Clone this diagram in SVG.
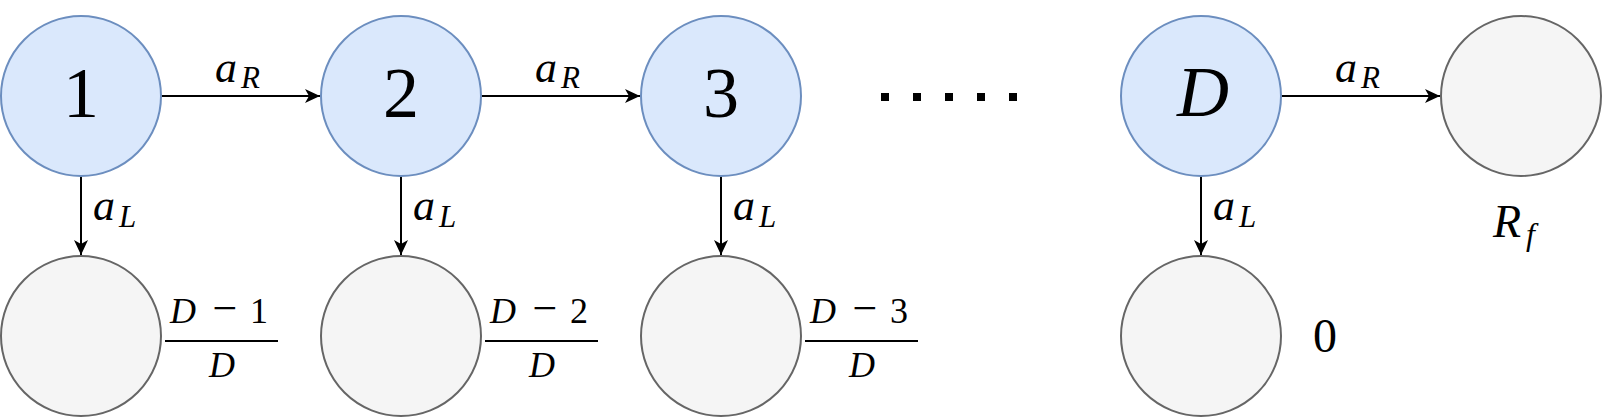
<svg xmlns="http://www.w3.org/2000/svg" width="1602" height="418" viewBox="0 0 1602 418">
<style>
.state{fill:#dae8fc;stroke:#6c8ebf;stroke-width:2}
.term{fill:#f5f5f5;stroke:#666666;stroke-width:2}
.edge{stroke:#000;stroke-width:2;fill:none}
text{font-family:'Liberation Serif','DejaVu Serif',serif;fill:#000}
.mi{font-style:italic}
.big{font-size:72px}
.lab{font-size:44px}
.sub{font-size:31px}
.fr{font-size:36px}
.minus{font-size:44px}
</style>
<defs>
<marker id="arr" markerUnits="userSpaceOnUse" markerWidth="18" markerHeight="16" viewBox="-16 -8 17 16" refX="0" refY="0" orient="auto">
<path d="M0,0 L-15,-7 L-11,0 L-15,7 Z" fill="#000"/>
</marker>
</defs>
<g id="connectors">
<line class="edge" x1="161" y1="96" x2="320" y2="96" marker-end="url(#arr)"/>
<line class="edge" x1="481" y1="96" x2="640" y2="96" marker-end="url(#arr)"/>
<line class="edge" x1="1281" y1="96" x2="1440" y2="96" marker-end="url(#arr)"/>
<line class="edge" x1="81" y1="176" x2="81" y2="255" marker-end="url(#arr)"/>
<line class="edge" x1="401" y1="176" x2="401" y2="255" marker-end="url(#arr)"/>
<line class="edge" x1="721" y1="176" x2="721" y2="255" marker-end="url(#arr)"/>
<line class="edge" x1="1201" y1="176" x2="1201" y2="255" marker-end="url(#arr)"/>
<text class="mi lab" x="215" y="82">a</text><text class="mi sub" x="241" y="88">R</text>
<text class="mi lab" x="535" y="82">a</text><text class="mi sub" x="561" y="88">R</text>
<text class="mi lab" x="1335" y="82">a</text><text class="mi sub" x="1361" y="88">R</text>
<text class="mi lab" x="93" y="220">a</text><text class="mi sub" x="119" y="227">L</text>
<text class="mi lab" x="413" y="220">a</text><text class="mi sub" x="439" y="227">L</text>
<text class="mi lab" x="733" y="220">a</text><text class="mi sub" x="759" y="227">L</text>
<text class="mi lab" x="1213" y="220">a</text><text class="mi sub" x="1239" y="227">L</text>
</g>
<g id="node1"><circle class="state" cx="81" cy="96" r="80"/><text class="big" x="81" y="117" text-anchor="middle">1</text></g>
<g id="node2"><circle class="state" cx="401" cy="96" r="80"/><text class="big" x="401" y="117" text-anchor="middle">2</text></g>
<g id="node3"><circle class="state" cx="721" cy="96" r="80"/><text class="big" x="721" y="117" text-anchor="middle">3</text></g>
<g id="nodeD"><circle class="state" cx="1201" cy="96" r="80"/><text class="mi big" x="1203" y="116" text-anchor="middle">D</text></g>
<g id="nodeRf"><circle class="term" cx="1521" cy="96" r="80"/>
<text class="mi" font-size="46" x="1493" y="237">R</text><text class="mi" font-size="32" x="1526" y="245">f</text></g>
<g id="term1"><circle class="term" cx="81" cy="336" r="80"/>
<text class="mi fr" x="170" y="323">D</text><text class="minus" x="225" y="323" text-anchor="middle">−</text><text class="fr" x="268" y="323" text-anchor="end">1</text>
<line x1="165" y1="341" x2="278" y2="341" stroke="#000" stroke-width="2"/>
<text class="mi fr" x="222" y="377" text-anchor="middle">D</text></g>
<g id="term2"><circle class="term" cx="401" cy="336" r="80"/>
<text class="mi fr" x="490" y="323">D</text><text class="minus" x="545" y="323" text-anchor="middle">−</text><text class="fr" x="588" y="323" text-anchor="end">2</text>
<line x1="485" y1="341" x2="598" y2="341" stroke="#000" stroke-width="2"/>
<text class="mi fr" x="542" y="377" text-anchor="middle">D</text></g>
<g id="term3"><circle class="term" cx="721" cy="336" r="80"/>
<text class="mi fr" x="810" y="323">D</text><text class="minus" x="865" y="323" text-anchor="middle">−</text><text class="fr" x="908" y="323" text-anchor="end">3</text>
<line x1="805" y1="341" x2="918" y2="341" stroke="#000" stroke-width="2"/>
<text class="mi fr" x="862" y="377" text-anchor="middle">D</text></g>
<g id="termD"><circle class="term" cx="1201" cy="336" r="80"/>
<text font-size="48" x="1325" y="352" text-anchor="middle">0</text></g>
<g id="dots" fill="#000">
<rect x="881" y="93" width="8" height="8"/><rect x="913" y="93" width="8" height="8"/><rect x="945" y="93" width="8" height="8"/><rect x="977" y="93" width="8" height="8"/><rect x="1009" y="93" width="8" height="8"/>
</g>
</svg>
